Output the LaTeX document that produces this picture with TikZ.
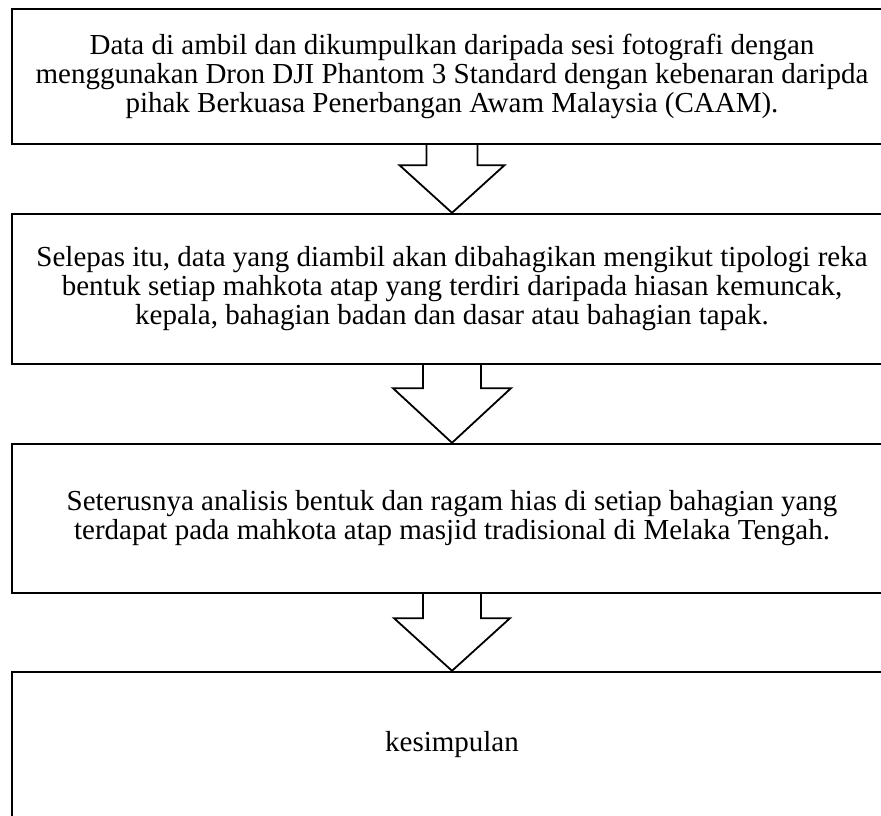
\documentclass[tikz,border=0pt]{standalone}
\usepackage{fontspec}
\setmainfont{Liberation Serif}
\usetikzlibrary{calc}

\tikzset{
    stagebox/.style={draw, line width=2.4pt, minimum width=880pt, inner sep=0pt,
        align=center, font=\fontsize{29}{29}\selectfont},
    arrowline/.style={draw, line width=1.8pt, line join=miter},
}

% block arrow: from, to, half shaft, half head, head depth
\newcommand{\blockarrow}[5]{%
    \draw[arrowline] ($(#1.south)+(-#3,0)$) -- ($(#1.south)+(-#3,-#5)$)
        -- ($(#1.south)+(-#4,-#5)$) -- (#2.north)
        -- ($(#1.south)+(#4,-#5)$) -- ($(#1.south)+(#3,-#5)$)
        -- ($(#1.south)+(#3,0)$);
}

\begin{document}
\begin{tikzpicture}[x=1pt, y=1pt]
            \clip (0,0) rectangle (881,-816);
            \fill[white] (0,0) rectangle (881,-816);

            \node[stagebox, minimum height=135pt] (ambil) at (452, -76.5)
                {Data di ambil dan dikumpulkan daripada sesi fotografi dengan\\
                 menggunakan Dron DJI Phantom 3 Standard dengan kebenaran daripda\\
                 pihak Berkuasa Penerbangan Awam Malaysia (CAAM).};
            \node[stagebox, minimum height=150pt] (bahagi) at (452, -289)
                {Selepas itu, data yang diambil akan dibahagikan mengikut tipologi reka\\
                 bentuk setiap mahkota atap yang terdiri daripada hiasan kemuncak,\\
                 kepala, bahagian badan dan dasar atau bahagian tapak.};
            \node[stagebox, minimum height=149pt] (analisis) at (452, -518.5)
                {Seterusnya analisis bentuk dan ragam hias di setiap bahagian yang\\
                 terdapat pada mahkota atap masjid tradisional di Melaka Tengah.};
            \node[stagebox, minimum height=146pt] (simpul) at (452, -745)
                {kesimpulan};

            \blockarrow{ambil}{bahagi}{25.5}{52.5}{20}
            \blockarrow{bahagi}{analisis}{29}{59}{23}
            \blockarrow{analisis}{simpul}{29}{58}{24}
        \end{tikzpicture}
\end{document}
